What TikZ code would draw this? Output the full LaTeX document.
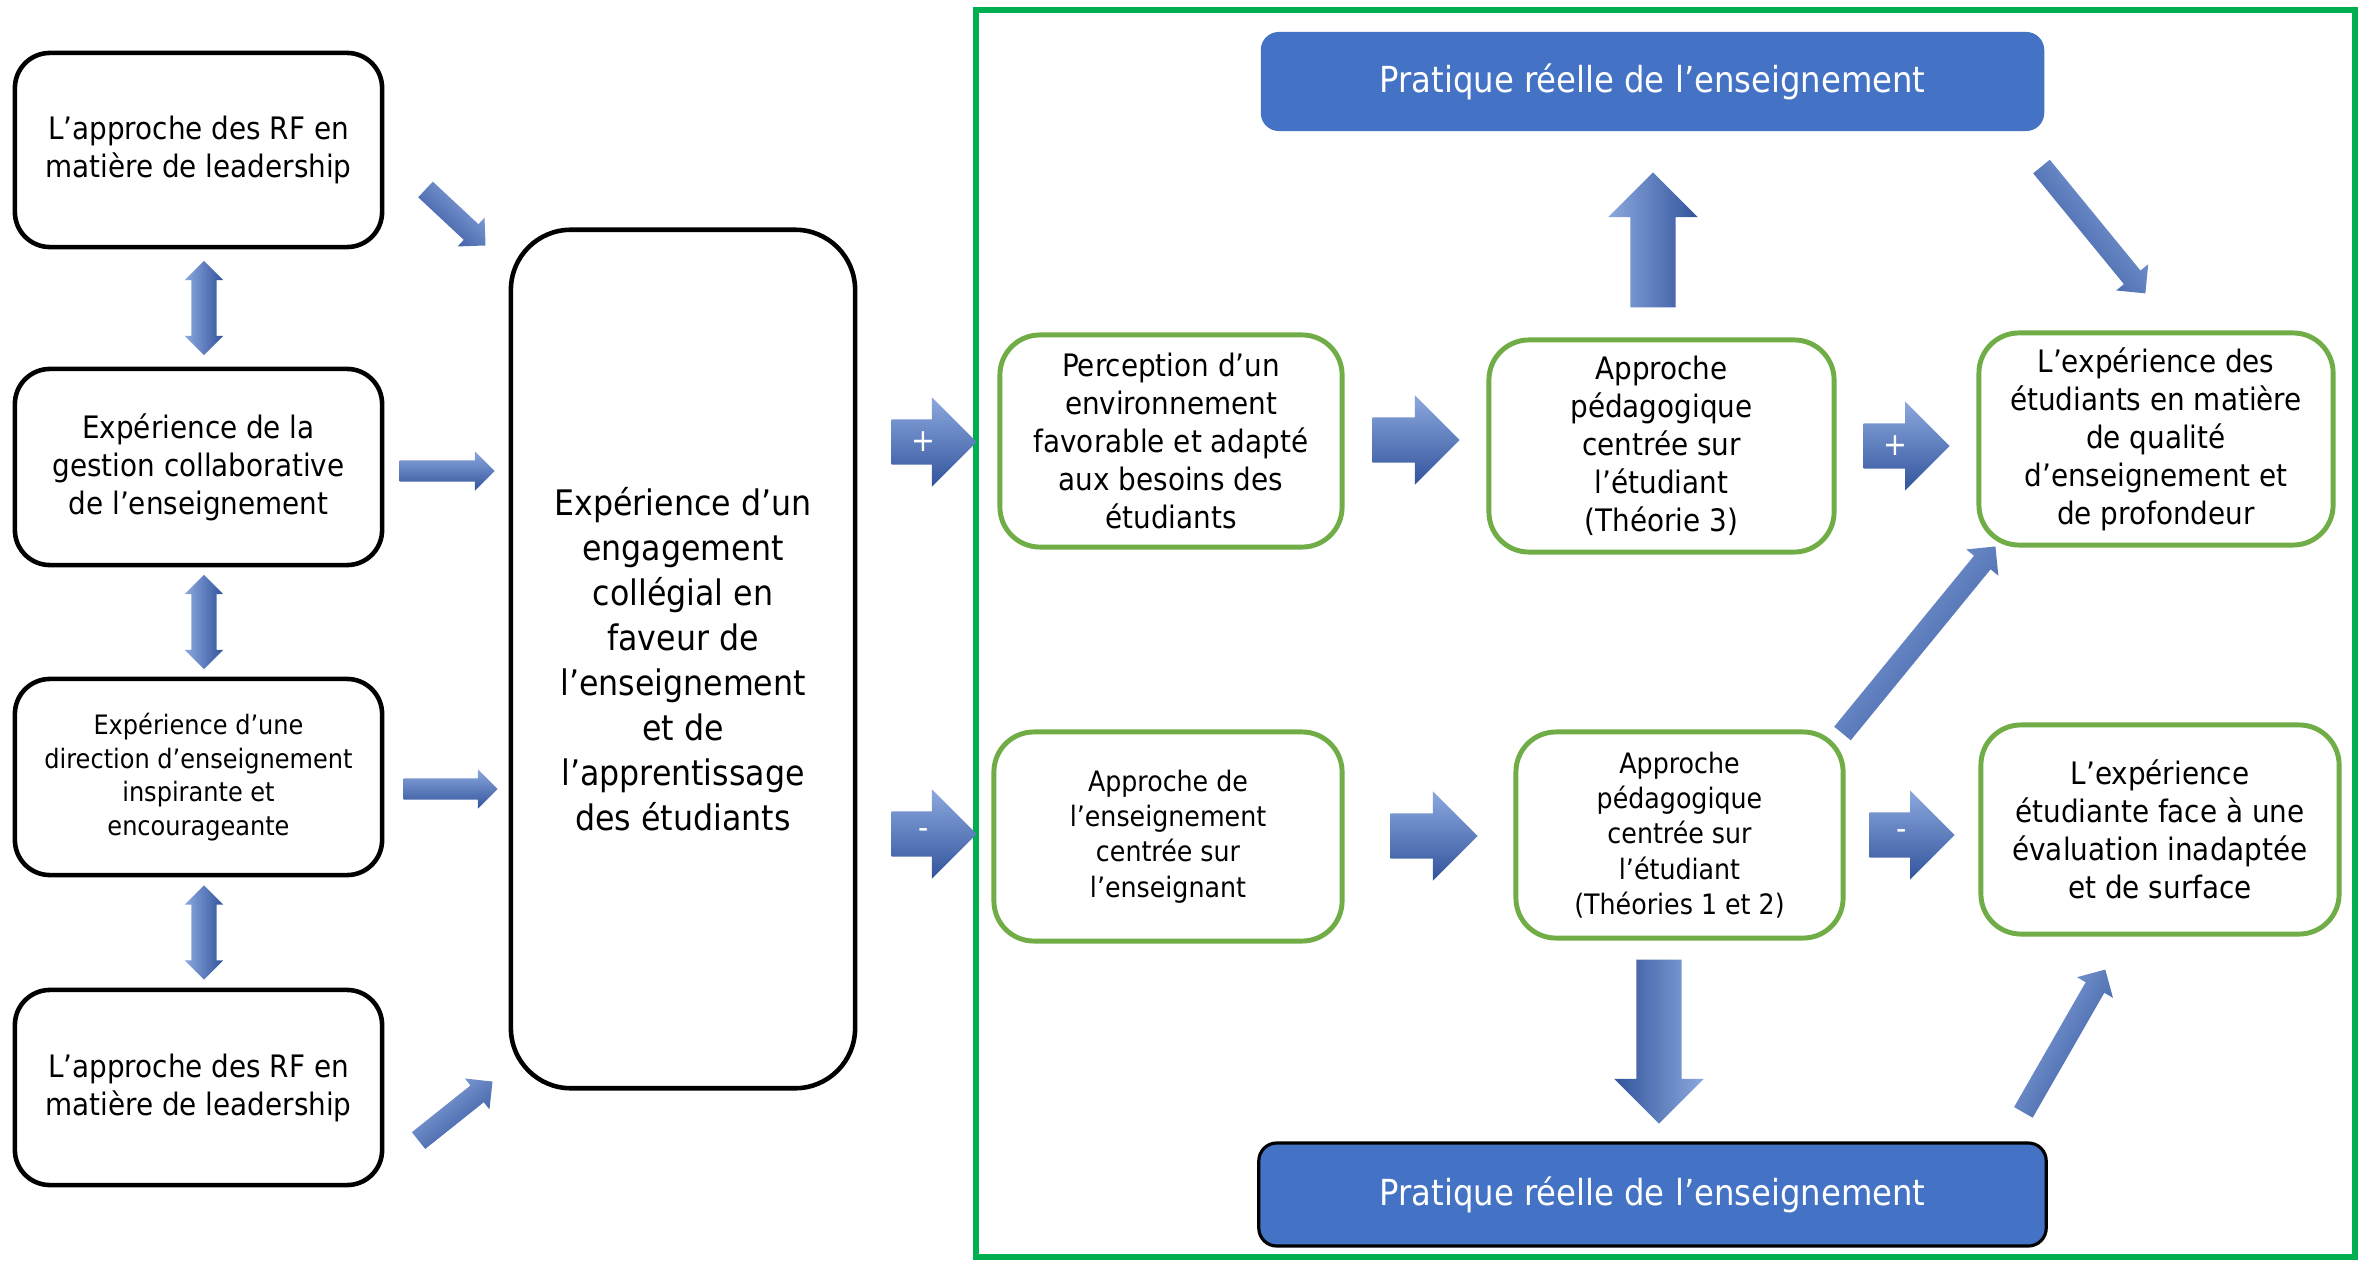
\documentclass[tikz,border=0pt]{standalone}
\usepackage{fontspec}
\setmainfont{DejaVu Sans Condensed}
\usepackage{tikz}
\usetikzlibrary{positioning, calc}
\usetikzlibrary{shapes.arrows}

\definecolor{framegreen}{RGB}{0,176,80}
\definecolor{leafgreen}{RGB}{112,173,71}
\definecolor{practiceblue}{RGB}{68,114,196}
\definecolor{arrlight}{RGB}{140,168,222}
\definecolor{arrmid}{RGB}{78,121,202}
\definecolor{arrdark}{RGB}{50,84,156}

\tikzset{
  inbox/.style={draw=black, line width=1.3pt, fill=white, rounded corners=0.35cm, align=center, font=\fontsize{8.8}{10.8}\selectfont},
  leafbox/.style={draw=leafgreen, line width=1.4pt, fill=white, rounded corners=0.4cm, align=center, font=\fontsize{8.8}{10.8}\selectfont},
  practicebox/.style={fill=practiceblue, rounded corners=0.18cm, text=white, font=\fontsize{10.2}{12}\selectfont},
  fatarrow/.style={single arrow, draw=none, inner sep=0pt, top color=arrlight, middle color=arrmid, bottom color=arrdark},
  bigarrow/.style={fatarrow, single arrow head extend=0.22cm, /utils/exec={\def\arrshaft{0.44cm}}},
  smallarrow/.style={fatarrow, single arrow head extend=0.09cm, /utils/exec={\def\arrshaft{0.20cm}}},
  slimarrow/.style={fatarrow, single arrow head extend=0.10cm, /utils/exec={\def\arrshaft{0.20cm}}},
  linkarrow/.style={double arrow, draw=none, inner sep=0pt, rotate=90, top color=arrlight, middle color=arrmid, bottom color=arrdark, shading angle=90, double arrow head extend=0.065cm, minimum height=0.94cm},
  sign/.style={text=white, inner sep=0pt, font=\fontsize{9}{10}\selectfont}
}

\newcommand{\blockarrow}[4][bigarrow]{%
  \path let \p1 = ($(#3)-(#2)$), \n1 = {atan2(\y1,\x1)}, \n2 = {veclen(\x1,\y1)} in
    node[#1, anchor=tail, rotate=\n1, shading angle=\n1, minimum height=\n2] at (#2) {\rule{0pt}{\arrshaft}}
    node[sign] at ($(#2)!0.38!(#3)$) {#4};
}

\begin{document}
\begin{tikzpicture}[x=0.01cm, y=-0.01cm]
    \useasboundingbox[fill=white] (0,0) rectangle (2361,1261);
    \draw[framegreen, line width=1.7pt] (976,10) rectangle (2355,1257);

    \node[inbox, minimum width=3.67cm, minimum height=1.94cm] (lb1) at (198.5,150) {L’approche des RF en\\matière de leadership};
    \node[inbox, minimum width=3.67cm, minimum height=1.96cm] (lb2) at (198.5,467) {Expérience de la\\gestion collaborative\\de l’enseignement};
    \node[inbox, minimum width=3.67cm, minimum height=1.96cm, font=\fontsize{7.6}{9.5}\selectfont] (lb3) at (198.5,777) {Expérience d’une\\direction d’enseignement\\inspirante et\\encourageante};
    \node[inbox, minimum width=3.67cm, minimum height=1.95cm] (lb4) at (198.5,1087.5) {L’approche des RF en\\matière de leadership};
    \node[inbox, rounded corners=0.6cm, minimum width=3.44cm, minimum height=8.58cm, font=\fontsize{10}{12.8}\selectfont] (ctr) at (683,659) {Expérience d’un\\engagement\\collégial en\\faveur de\\l’enseignement\\et de\\l’apprentissage\\des étudiants};

    \node[linkarrow] (d12) at ($(lb1.south)!0.5!(lb2.north)+(5.5,0)$) {\rule{0pt}{0.24cm}};
    \node[linkarrow] (d23) at ($(lb2.south)!0.5!(lb3.north)+(5.5,0)$) {\rule{0pt}{0.24cm}};
    \node[linkarrow] (d34) at ($(lb3.south)!0.5!(lb4.north)+(5.5,0)$) {\rule{0pt}{0.24cm}};

    \node[practicebox, minimum width=7.83cm, minimum height=0.99cm] (ptop) at (1652.5,81.5) {Pratique réelle de l’enseignement};
    \node[practicebox, draw=black, line width=0.9pt, minimum width=7.87cm, minimum height=1.03cm] (pbot) at (1652.5,1194.5) {Pratique réelle de l’enseignement};

    \node[leafbox, minimum width=3.42cm, minimum height=2.12cm] (env) at (1171,441) {Perception d’un\\environnement\\favorable et adapté\\aux besoins des\\étudiants};
    \node[leafbox, minimum width=3.45cm, minimum height=2.12cm] (stud3) at (1661.5,446) {Approche\\pédagogique\\centrée sur\\l’étudiant\\(Théorie 3)};
    \node[leafbox, minimum width=3.54cm, minimum height=2.12cm] (deep) at (2156,439) {L’expérience des\\étudiants en matière\\de qualité\\d’enseignement et\\de profondeur};
    \node[leafbox, minimum width=3.48cm, minimum height=2.09cm, font=\fontsize{8}{10}\selectfont] (teach) at (1168,836.5) {Approche de\\l’enseignement\\centrée sur\\l’enseignant};
    \node[leafbox, minimum width=3.27cm, minimum height=2.06cm, font=\fontsize{8}{10}\selectfont] (stud12) at (1679.5,835) {Approche\\pédagogique\\centrée sur\\l’étudiant\\(Théories 1 et 2)};
    \node[leafbox, minimum width=3.58cm, minimum height=2.09cm] (surf) at (2160,829.5) {L’expérience\\étudiante face à une\\évaluation inadaptée\\et de surface};

    \coordinate (a1t) at (425,189);   \coordinate (a1h) at (485,245);
    \coordinate (a2t) at (399,471);   \coordinate (a2h) at (494,471);
    \coordinate (a3t) at (403,789);   \coordinate (a3h) at (497,789);
    \coordinate (a4t) at (418,1141);  \coordinate (a4h) at (492,1082);
    \coordinate (plust) at (891,442); \coordinate (plush) at (976,442);
    \coordinate (minust) at (891,834); \coordinate (minush) at (976,834);
    \coordinate (g12t) at (1372,440); \coordinate (g12h) at (1459,440);
    \coordinate (g23t) at (1863,446); \coordinate (g23h) at (1949,446);
    \coordinate (g45t) at (1390,836); \coordinate (g45h) at (1477,836);
    \coordinate (g56t) at (1869,835); \coordinate (g56h) at (1954,835);
    \coordinate (upt) at (1653,308);  \coordinate (uph) at (1653,173);
    \coordinate (downt) at (1659,959); \coordinate (downh) at (1659,1123);
    \coordinate (t3t) at (2041,166);  \coordinate (t3h) at (2145,293);
    \coordinate (d53t) at (1842,734); \coordinate (d53h) at (1995,547);
    \coordinate (b6t) at (2023,1113); \coordinate (b6h) at (2105,970);

    \blockarrow[smallarrow]{a1t}{a1h}{}
    \blockarrow[smallarrow]{a2t}{a2h}{}
    \blockarrow[smallarrow]{a3t}{a3h}{}
    \blockarrow[smallarrow]{a4t}{a4h}{}
    \blockarrow{plust}{plush}{+}
    \blockarrow{minust}{minush}{-}
    \blockarrow{g12t}{g12h}{}
    \blockarrow{g23t}{g23h}{+}
    \blockarrow{g45t}{g45h}{}
    \blockarrow{g56t}{g56h}{-}
    \blockarrow{upt}{uph}{}
    \blockarrow{downt}{downh}{}
    \blockarrow[slimarrow]{t3t}{t3h}{}
    \blockarrow[slimarrow]{d53t}{d53h}{}
    \blockarrow[slimarrow]{b6t}{b6h}{}
\end{tikzpicture}
\end{document}
